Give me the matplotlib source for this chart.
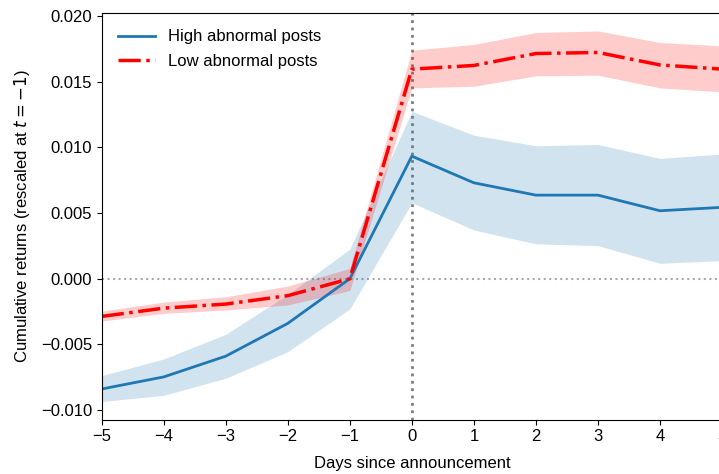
import matplotlib
matplotlib.use("Agg")
import matplotlib.pyplot as plt
import numpy as np

plt.rcParams['font.family'] = ['Liberation Sans', 'DejaVu Sans']
plt.rcParams['mathtext.fontset'] = 'dejavusans'

days = [-5, -4, -3, -2, -1, 0, 1, 2, 3, 4, 5]

high = [-0.0084, -0.00748, -0.0059, -0.0034, 0.0, 0.00934, 0.00731, 0.00637, 0.00637, 0.00518, 0.00544]
high_upper = [-0.00738, -0.00611, -0.00423, -0.0012, 0.00225, 0.01275, 0.01094, 0.01013, 0.01023, 0.00917, 0.0095]
high_lower = [-0.00936, -0.00888, -0.00758, -0.00556, -0.0023, 0.00579, 0.00371, 0.00266, 0.00252, 0.00118, 0.00138]

low = [-0.00287, -0.00224, -0.00193, -0.00129, 0.0, 0.01597, 0.01625, 0.01716, 0.01724, 0.01629, 0.01597]
low_upper = [-0.00246, -0.00178, -0.00137, -0.00056, 0.00079, 0.01741, 0.01785, 0.01876, 0.01888, 0.018, 0.01774]
low_lower = [-0.00322, -0.00264, -0.00238, -0.002, -0.0009, 0.01454, 0.01467, 0.01546, 0.01551, 0.01454, 0.01424]

yticks = [-0.010, -0.005, 0.000, 0.005, 0.010, 0.015, 0.020]

FS = 12

fig = plt.figure(figsize=(7.19, 4.74), dpi=100)
ax = fig.add_axes([101.7 / 719, 54.3 / 474, (722 - 101.7) / 719, (461.3 - 54.3) / 474])

ax.axvline(0, color='gray', linestyle=':', linewidth=2, zorder=1)
ax.axhline(0, color='darkgray', linestyle=':', linewidth=1.5, zorder=1)

ax.fill_between(days, high_lower, high_upper, color='#1f77b4', alpha=0.2, linewidth=0)
ax.plot(days, high, color='#1f77b4', linewidth=2, label='High abnormal posts')
ax.fill_between(days, low_lower, low_upper, color='red', alpha=0.2, linewidth=0)
ax.plot(days, low, color='red', linestyle='-.', linewidth=2.5, label='Low abnormal posts')

ax.set_xlim(-5, 5)
ax.set_ylim(-0.01074, 0.02027)
ax.set_xticks(days)
ax.set_xticklabels([f"{d}".replace('-', '\u2212') for d in days])
ax.set_yticks(yticks)
ax.set_yticklabels([f"{v:.3f}".replace('-', '\u2212') for v in yticks])
ax.tick_params(labelsize=FS)

ax.set_xlabel('Days since announcement', fontsize=FS, labelpad=8)
ax.set_ylabel('Cumulative returns (rescaled at $t=-1$)', fontsize=FS, labelpad=6)

ax.legend(loc='upper left', frameon=False, fontsize=FS, handlelength=2.2,
          borderaxespad=0.6, labelspacing=0.55)

fig.savefig('out.png', dpi=100)
